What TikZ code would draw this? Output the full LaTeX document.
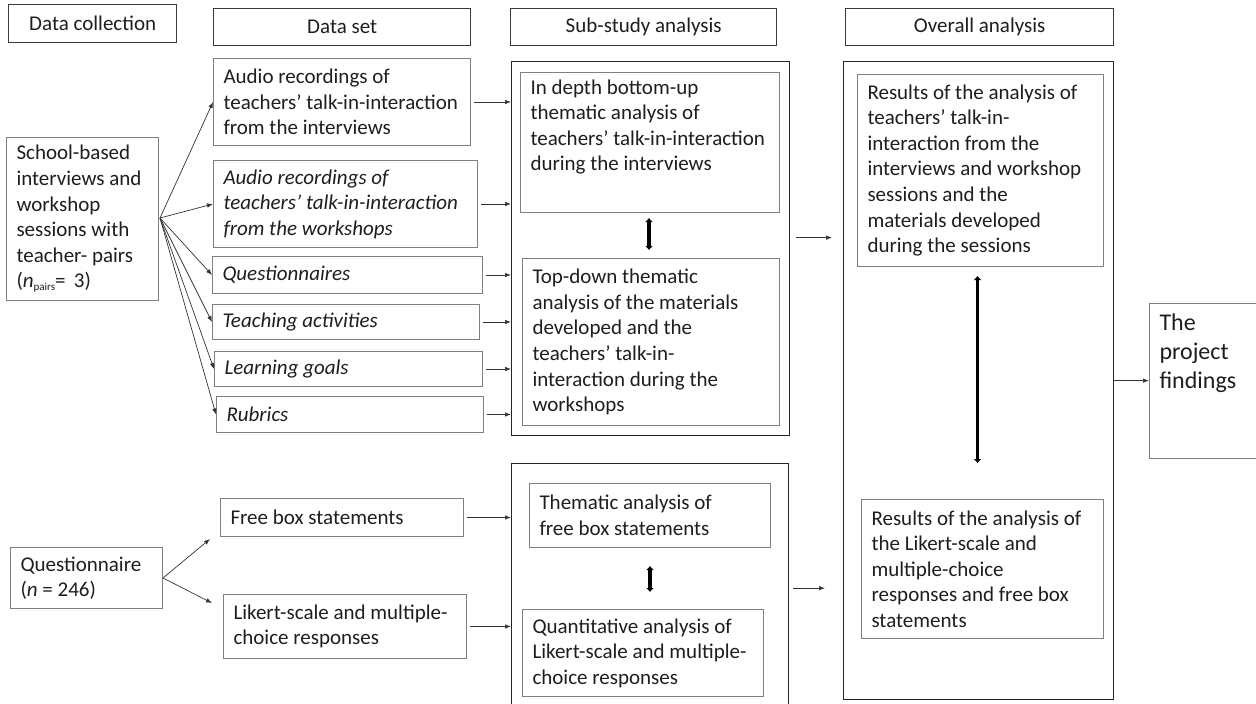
\documentclass[tikz,border=0pt]{standalone}
\usepackage{fontspec}
\setmainfont{Carlito}
\usetikzlibrary{arrows.meta,calc}
\definecolor{txt}{HTML}{1E1E1E}
\definecolor{hdrc}{HTML}{3A3A3A}
\definecolor{inc}{HTML}{808080}
\definecolor{outc}{HTML}{262626}
\definecolor{arc}{HTML}{333333}
\newcommand{\bx}[8]{%
 \pgfmathsetmacro\bw{#4-#2}\pgfmathsetmacro\bh{#5-#3}%
 \node[#6,anchor=north west,inner sep=0pt] (#1) at (#2,#3) {\begin{minipage}[t][\bh pt][#7]{\bw pt}\hyphenpenalty=10000\exhyphenpenalty=10000\raggedright\leftskip=10pt #8\end{minipage}};}
\newcommand{\ebx}[6]{%
 \pgfmathsetmacro\bw{#4-#2}\pgfmathsetmacro\bh{#5-#3}%
 \node[#6,anchor=north west,inner sep=0pt,minimum width=\bw pt,minimum height=\bh pt] (#1) at (#2,#3) {};}
\begin{document}
\begin{tikzpicture}[x=1pt,y=-1pt, font=\fontsize{21}{25.6}\selectfont, text=txt,
 hdr/.style={draw=hdrc, line width=1.4pt},
 inb/.style={draw=inc, line width=1pt},
 outb/.style={draw=outc, line width=1.3pt},
 arr/.style={-{Latex[length=6pt,width=4.5pt]}, draw=arc, line width=0.7pt},
 dbl/.style={{Latex[length=4pt,width=8pt]}-{Latex[length=4pt,width=8pt]}, line width=3.5pt, draw=black}]
\useasboundingbox (0,0) rectangle (1256,704);
% headers
\bx{hdc}{8}{4}{176}{42}{hdr}{c}{\centering Data collection}
\bx{hds}{213}{8}{470}{45}{hdr}{c}{\centering Data set}
\bx{hss}{510}{8}{776}{45}{hdr}{c}{\centering Sub-study analysis}
\bx{hov}{845}{8}{1113}{45}{hdr}{c}{\centering Overall analysis}
% data collection
\bx{sb}{6}{137}{158}{300}{inb}{c}{School-based\\interviews and\\workshop\\sessions with\\teacher- pairs\\(\textit{n}\raisebox{-3pt}{\fontsize{11}{11}\selectfont pairs}=\ \,3)}
\bx{q}{10}{547}{162}{608}{inb}{c}{Questionnaire\\(\textit{n} = 246)}
% data set
\bx{a1}{213}{58}{470}{145}{inb}{c}{Audio recordings of\\teachers’ talk-in-interaction\\from the interviews}
\bx{a2}{213}{160}{477}{247}{inb}{c}{\itshape Audio recordings of\\teachers’ talk-in-interaction\\from the workshops}
\bx{dq}{212}{256}{482}{293}{inb}{c}{\itshape Questionnaires}
\bx{dt}{212}{304}{479}{339}{inb}{c}{\itshape Teaching activities}
\bx{dl}{214}{351}{482}{386}{inb}{c}{\itshape Learning goals}
\bx{dr}{216}{396}{483}{432}{inb}{c}{\itshape Rubrics}
\bx{fb}{220}{498}{463}{536}{inb}{c}{Free box statements}
\bx{lk}{223}{594}{466}{658}{inb}{c}{Likert-scale and multiple-\\choice responses}
% sub-study
\ebx{sub}{511}{61}{789}{435}{outb}
\bx{s1}{520}{72}{779}{212}{inb}{t}{\vspace*{7pt}In depth bottom-up\\thematic analysis of\\teachers’ talk-in-interaction\\during the interviews}
\bx{s2}{522}{258}{779}{425}{inb}{c}{Top-down thematic\\analysis of the materials\\developed and the\\teachers’ talk-in-\\interaction during the\\workshops}
\ebx{subL}{511}{463}{788}{712}{outb}
\bx{s3}{529}{483}{770}{547}{inb}{c}{Thematic analysis of\\free box statements}
\bx{s4}{522}{609}{763}{696}{inb}{c}{Quantitative analysis of\\Likert-scale and multiple-\\choice responses}
% overall
\ebx{ov}{843}{61}{1113}{699}{outb}
\bx{o1}{857}{74}{1103}{266}{inb}{c}{Results of the analysis of\\teachers’ talk-in-\\interaction from the\\interviews and workshop\\sessions and the\\materials developed\\during the sessions}
\bx{o2}{861}{499}{1103}{638}{inb}{c}{Results of the analysis of\\the Likert-scale and\\multiple-choice\\responses and free box\\statements}
\bx{fd}{1149}{303}{1262}{458}{inb}{t}{\fontsize{24}{29}\selectfont\vspace*{10pt}The\\project\\findings}
% connectors
\coordinate (sbo) at (160,218);
\foreach \t in {a1,a2,dq,dt,dl,dr} \draw[arr] (sbo) -- (\t.west);
\foreach \t in {a1,a2,dq,dt,dl,dr} \draw[arr] ($(\t.east)+(3,0)$) -- (\t.east -| sub.west);
\foreach \t in {fb,lk} \draw[arr] ($(\t.east)+(3,0)$) -- (\t.east -| subL.west);
\coordinate (fbt) at (210,539);
\coordinate (lkt) at (212,603);
\draw[arr] (q.east) -- (fbt);
\draw[arr] (q.east) -- (lkt);
\coordinate (m1) at ($(sub.east)+(0,-11)$);
\draw[arr] ($(m1)+(6,0)$) -- ($(m1 -| ov.west)+(-11,0)$);
\draw[arr] ($(subL.east)+(4,0)$) -- ($(subL.east -| ov.west)+(-18,0)$);
\draw[arr] (ov.east) -- (ov.east -| fd.west);
\draw[dbl] ($(s1.south)+(-1,5)$) -- ($(s1.south |- s2.north)+(-1,-8)$);
\draw[dbl] ($(s3.south)+(0,18)$) -- ($(s3.south |- s4.north)+(0,-17)$);
\draw[dbl] ($(o1.south)+(-3,9)$) -- ($(o1.south |- o2.north)+(-3,-36)$);
\end{tikzpicture}
\end{document}
